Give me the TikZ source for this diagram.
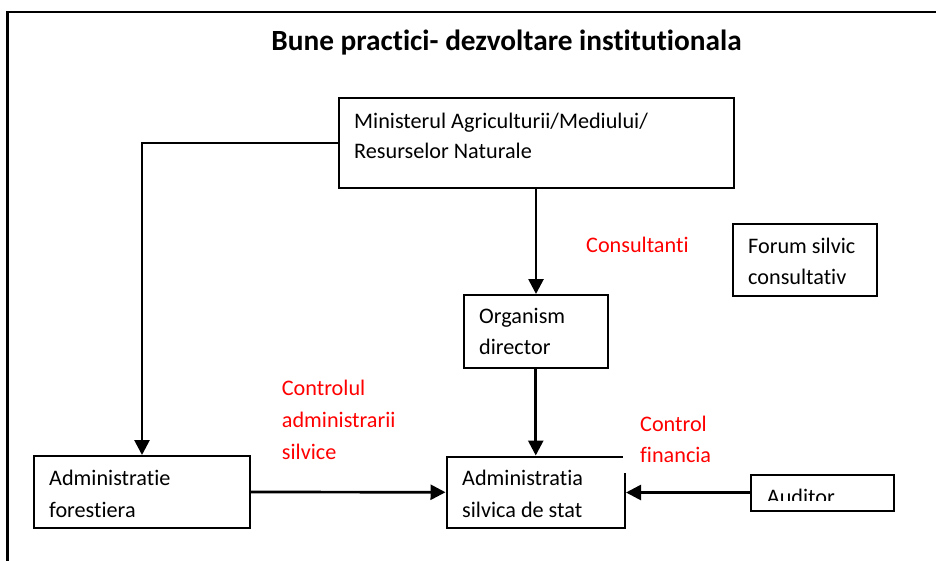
\documentclass[tikz,border=0pt]{standalone}
\usepackage{fontspec}
\setmainfont{Carlito}[Ligatures={NoCommon,NoRare,NoContextual}]
\usetikzlibrary{arrows.meta}
% stacked left-aligned lines; baseline of the whole block is the first line
\newcommand\stacklines[2][31.5pt]{\vtop{\baselineskip=#1\relax\halign{##\hfil\cr#2\crcr}}}
\tikzset{
  boxnode/.style={draw=black, line width=2pt, fill=white, inner sep=0pt, anchor=north west},
  conn/.style={line width=2.7pt, -{Triangle[length=15pt,width=15pt]}},
  txt/.style={anchor=base west, inner sep=0pt, font=\fontsize{22.2}{31.5}\selectfont},
  redtxt/.style={txt, text=red},
}
\begin{document}
\begin{tikzpicture}[x=1pt,y=-1pt]
\useasboundingbox (0,0) rectangle (936,560);
% outer frame
\draw[line width=2.2pt] (7.5,12) rectangle (948,575);
% title
\node[anchor=base, inner sep=0pt, font=\fontsize{29.3}{34}\selectfont\bfseries] (title) at (506.5,50) {Bune practici- dezvoltare institutionala};

% boxes
\node[boxnode, minimum width=395, minimum height=90] (min) at (338,97) {};
\node[boxnode, minimum width=144, minimum height=72.5] (org) at (463,294) {};
\node[boxnode, minimum width=144, minimum height=72] (forum) at (731.5,222.5) {};
\node[boxnode, minimum width=216, minimum height=72] (adfor) at (33,455) {};
\node[boxnode, minimum width=178.5, minimum height=71.5] (adsil) at (445.5,455.5) {};
\node[boxnode, minimum width=143, minimum height=36] (aud) at (750,473.5) {};

% connectors
\draw[conn] (min.west) -| (adfor.north);
\draw[conn] (org.north |- min.south) -- (org.north);
\draw[conn] (adsil.north |- org.south) -- (adsil.north);
\draw[conn] (adfor.east) -- (adsil.west);
\draw[conn] (aud.west) -- (adsil.east |- aud.west);

% text inside the boxes
\node[txt] (mintxt) at (354,128) {\stacklines[30pt]{Ministerul Agriculturii/Mediului/\cr Resurselor Naturale}};
\node[txt] (orgtxt) at (479,323.3) {\stacklines{Organism\cr director}};
\node[txt] (forumtxt) at (748,253.3) {\stacklines{Forum silvic\cr consultativ}};
\node[txt] (adfortxt) at (49,485.7) {\stacklines{Administratie\cr forestiera}};
\node[txt] (adsiltxt) at (462,485.7) {\stacklines{Administratia\cr silvica de stat}};
\begin{scope}
  \clip (750,473.5) rectangle (893,500);
  \node[txt] (audtxt) at (766.7,504) {Auditor};
\end{scope}

% red annotations
\node[redtxt] (cons) at (586,252.3) {Consultanti};
\node[redtxt] (ctrladm) at (281.7,395) {\stacklines[32pt]{Controlul\cr administrarii\cr silvice}};
\fill[white] (623,405) rectangle (722,473);
\node[redtxt] (ctrlfin) at (640,431) {\stacklines{Control\cr financia}};
\end{tikzpicture}
\end{document}
